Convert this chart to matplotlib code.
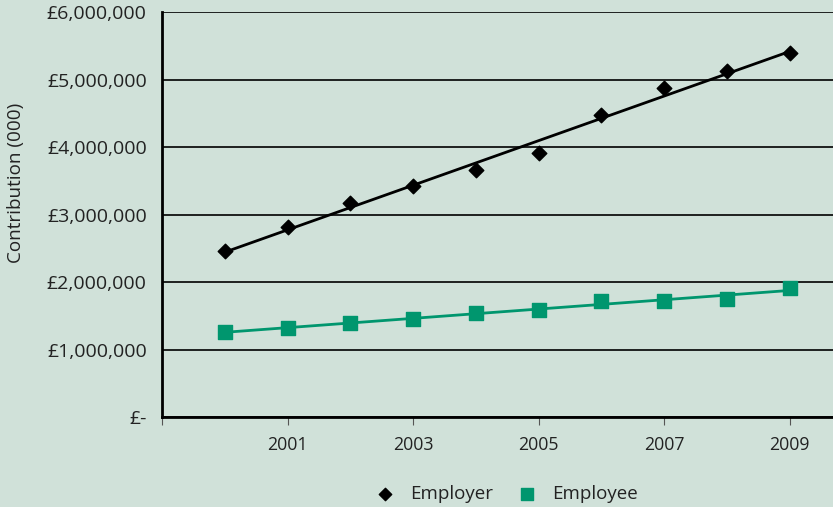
import matplotlib.pyplot as plt
import numpy as np
from matplotlib.ticker import FuncFormatter

years = [2000, 2001, 2002, 2003, 2004, 2005, 2006, 2007, 2008, 2009]
employer = [2460000, 2810000, 3170000, 3420000, 3660000, 3910000, 4470000, 4870000, 5130000, 5390000]
employee = [1260000, 1320000, 1390000, 1450000, 1540000, 1590000, 1720000, 1720000, 1750000, 1910000]

tick_years = [1999, 2001, 2003, 2005, 2007, 2009]
tick_labels = ['', '2001', '2003', '2005', '2007', '2009']

BG = '#d0e1d9'
GREEN = '#00966e'
TEXT = '#222222'

plt.rcParams['font.family'] = ['Open Sans', 'DejaVu Sans']


def pounds(v, pos):
    if v == 0:
        return '£-'
    return f'£{v:,.0f}'


def main():
    fig = plt.figure(figsize=(8.33, 5.07), dpi=100, facecolor=BG)
    ax = fig.add_axes([0.1945, 0.1775, 0.8055, 0.7988])
    ax.set_facecolor(BG)

    x = np.array(years)
    # linear trend lines through each series
    for vals, color in ((employer, 'black'), (employee, GREEN)):
        k, b = np.polyfit(x, vals, 1)
        ax.plot(x, k * x + b, color=color, linewidth=2, zorder=2)

    ax.scatter(years, employer, marker='D', s=55, color='black', zorder=3, label='Employer')
    ax.scatter(years, employee, marker='s', s=110, color=GREEN, zorder=3, label='Employee')

    ax.set_xlim(1999, 2009.69)
    ax.set_ylim(0, 6000000)
    ax.set_yticks(range(0, 6000001, 1000000))
    ax.yaxis.set_major_formatter(FuncFormatter(pounds))
    ax.set_xticks(tick_years)
    ax.set_xticklabels(tick_labels)

    ax.grid(axis='y', color='black', linewidth=1.2, zorder=1)
    ax.set_axisbelow(True)
    for side in ('top', 'right'):
        ax.spines[side].set_visible(False)
    for side in ('left', 'bottom'):
        ax.spines[side].set_linewidth(2)

    ax.tick_params(axis='y', length=0, pad=11, labelsize=14, labelcolor=TEXT)
    ax.tick_params(axis='x', length=6, width=0.8, color='#555555', pad=8,
                   labelsize=12.8, labelcolor=TEXT)

    fig.text(0.019, 0.639, 'Contribution (000)', rotation=90, ha='center', va='center',
             fontsize=13.6, color=TEXT)

    fig.legend(loc='center', bbox_to_anchor=(0.603, 0.026), ncol=2, frameon=False,
               fontsize=13.5, handletextpad=0.35, columnspacing=0.8, markerscale=0.85,
               labelcolor=TEXT)

    fig.savefig('out.png', dpi=100, facecolor=BG)


if __name__ == '__main__':
    main()
